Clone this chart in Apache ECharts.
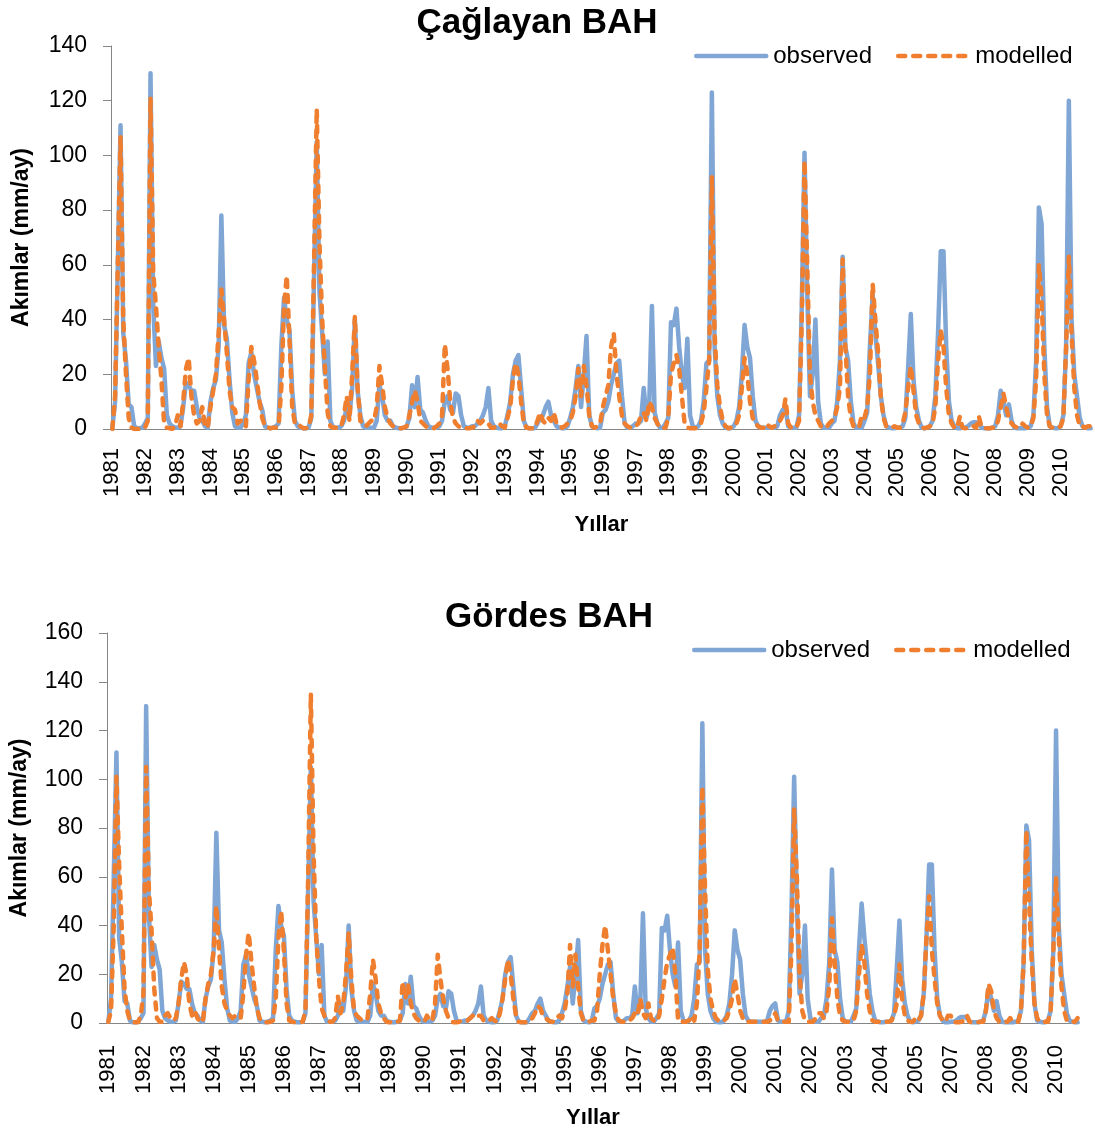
<!DOCTYPE html>
<html>
<head>
<meta charset="utf-8">
<script src="https://cdn.jsdelivr.net/npm/echarts/dist/echarts.min.js"></script>
<style>
html,body{margin:0;padding:0;background:#ffffff;}
#chart{width:1095px;height:1135px;}
</style>
</head>
<body>
<div id="chart"></div>
<script>
// ---------- data ----------
const years = [1981,1982,1983,1984,1985,1986,1987,1988,1989,1990,1991,1992,1993,1994,1995,
               1996,1997,1998,1999,2000,2001,2002,2003,2004,2005,2006,2007,2008,2009,2010];
const months = ['01','02','03','04','05','06','07','08','09','10','11','12'];

// observed monthly runoff (mm/ay), Jan..Dec per row, 1981..2010 (same record shown in both panels)
const observed = [
  0.5,10,60,111,35,25,9,8,1,0.3,0.3,0.5,
  2,4,130,45,23,32,26,22,5,2,1,0.5,
  0.5,1,8,17,16,14,14,8,4,3,1,0.5,
  10,15,18,30,78,38,33,18,6,1,0.5,0.5,
  2,5,24,28,20,15,10,7,1,0.5,0.3,0.5,
  1,2,30,48,40,36,14,3,1,0.5,0.3,0.3,
  0.5,4,55,105,50,35,20,32,3,0.5,0.5,0.5,
  1,3,8,5,15,40,14,5,1,0.5,0.5,0.5,
  0.5,3,16,12,5,3,3,1,0.5,0.3,0.3,0.5,
  1,4,16,8,19,7,6,3,1,0.5,0.5,0.5,
  1,3,10,12,7,6,13,12,5,1,0.5,0.5,
  1,1,2,3,5,8,15,3,1,0.5,0.3,0.3,
  1,5,10,20,25,27,15,3,0.5,0.3,0.3,0.3,
  2,4,5,8,10,5,3,1,0.5,0.3,0.3,1,
  4,8,15,23,8,20,34,5,1,0.5,0.3,0.5,
  6,7,10,16,20,24,25,12,2,0.5,0.5,1,
  2,2,3,15,4,8,45,6,2,0.5,0.5,2,
  4,39,38,44,30,20,15,33,5,1,0.5,1,
  3,10,24,25,123,30,12,5,2,0.5,0.3,0.3,
  1,3,8,20,38,30,26,12,3,1,0.5,0.5,
  0.5,0.5,0.5,0.5,1,5,7,8,1,0.5,0.5,0.5,
  5,45,101,50,12,20,40,10,2,0.5,0.5,0.5,
  2,3,10,25,63,30,25,10,2,0.5,0.5,0.5,
  3,6,30,49,35,24,12,5,1,0.5,0.3,0.3,
  0.5,0.5,1,4,22,42,18,8,3,0.5,0.3,0.5,
  1,3,12,35,65,65,30,10,3,1,0.3,0.3,
  0.5,0.5,1,2,2.5,2.5,2,0.5,0.3,0.3,0.3,0.5,
  1,5,14,10,5,9,3,0.5,0.3,0.3,0.3,0.3,
  0.5,1,5,25,81,75,30,8,1,0.5,0.3,0.3,
  1,5,30,120,40,20,12,4,1,0.5,0.3,0.3
];

// modelled, Çağlayan BAH
const caglayanModelled = [
  0,12,60,107,40,20,4,0.5,0,0,0,0.5,
  0.5,3,121,57,45,30,18,2,0.5,0.3,0,1,
  5,1,10,22,26,12,5,2,3,8,1,0.5,
  8,14,20,35,51,40,28,14,8,7,2,3,
  3,1,18,30,25,18,10,4,1,0.5,0.3,0.5,
  0.5,1,15,45,56,33,8,2,2,1,0.3,0.3,
  0.5,5,60,117,68,40,22,6,1,0.5,0.5,0.5,
  1,5,12,3,20,41,15,3,2,1,2,3,
  3,8,23,16,8,4,2,1,0.5,0.3,0.3,0.5,
  1,5,10,14,10,3,2,1,0.5,0.3,0.3,1,
  2,5,31,22,10,4,2,1,0.5,0.3,0.3,0.3,
  0.5,1,3,2,3,3,2,0.5,0.5,1,2,1,
  0.5,4,8,18,24,20,10,2,0.5,0.3,0.3,0.3,
  3,6,3,2,4,3,6,2,1,0.5,1,2,
  3,6,12,22,12,23,16,5,1,0.5,1,2,
  8,12,16,30,35,20,12,5,2,1,0.5,1,
  1,2,5,6,3,10,8,4,2,0.5,0.3,0.5,
  4,20,24,27,22,12,2,0.5,0.3,0.3,0.3,1,
  2,6,15,25,92,35,16,8,3,1,0.3,0.5,
  1,2,5,15,26,20,10,4,2,1,0.5,0.5,
  2,1,0.5,1,2,3,5,11,2,0.5,0.5,0.5,
  3,40,98,60,20,10,5,3,1,0.5,0.5,2,
  3,4,8,15,62,30,12,4,1,1,0.5,5,
  4,8,20,53,40,28,12,4,1,0.5,0.5,1,
  0.5,0.5,2,6,15,23,14,5,2,0.5,0.3,0.5,
  1,2,8,25,36,30,15,5,2,0.5,0.3,4.5,
  0.5,0.3,0.3,0.5,1,0.5,4.5,0.5,0.3,0.3,0.3,0.5,
  0.5,3,8,13,8,4,2,1,0.5,0.5,2,1,
  0.5,1,4,18,60,48,20,5,1,0.5,0.3,0.5,
  1,4,30,63,35,15,5,1,1,0.5,1,1
];

// modelled, Gördes BAH
const gordesModelled = [
  0.5,5,40,101,65,38,14,5,1,0.3,0.3,0.3,
  3,12,105,55,38,14,2,0.5,0.5,3,4,2,
  1,2,8,18,25,20,8,3,5,2,0.5,0.5,
  10,16,20,30,48,30,15,8,5,3,2,3,
  3,2,12,28,37,25,15,6,2,0.5,0.3,0.3,
  0.5,1,10,35,46,30,8,1,0.5,0.3,0.3,0.5,
  0.5,5,60,135,70,35,18,6,3,1,0.5,0.5,
  2,11,4,8,20,37,18,5,3,2,1,1,
  2,12,26,18,8,4,2,0.5,0.3,0.3,0.3,0.5,
  1,17,10,16,8,4,2,1,0.5,0.5,3,1,
  1,8,28,18,10,5,2,0.5,0.3,0.3,0.5,1,
  1,1,2,3,2,3,3,1,0.5,1,2,1,
  0.5,4,10,18,26,20,10,3,0.5,0.3,0.3,0.3,
  1,2,4,7,6,3,2,1,0.5,0.5,2,3,
  2,5,12,32,15,28,15,4,1,0.5,0.5,1,
  1,5,20,32,40,30,20,10,4,1,0.5,0.5,
  0.5,1,2,4,3,10,4,2,8,2,1,0.5,
  3,10,18,25,28,31,20,1,0.5,0.5,0.5,1,
  3,1,8,30,97,55,22,10,5,2,1,0.5,
  1,2,5,10,18,12,5,2,0.5,0.5,0.5,0.5,
  0.5,0.5,0.5,0.5,0.5,1,2,4,1,0.5,0.5,0.5,
  0.5,30,88,60,20,5,1,0.5,0.5,0.5,2,4,
  4,2,5,15,43,25,10,3,1,0.5,0.5,0.5,
  1,5,20,32,25,12,5,1,0.5,0.5,0.5,0.5,
  0.5,0.5,1,3,8,24,10,3,1,0.5,0.5,2,
  1,3,12,35,52,30,18,8,3,1,0.5,3,
  3,0.5,0.3,0.3,0.5,1,3,0.5,0.3,0.3,0.3,0.5,
  0.5,5,16,13,5,2,0.5,0.5,0.5,0.5,2,0.5,
  0.5,0.5,5,25,79,50,25,8,2,0.5,0.5,0.5,
  0.5,5,30,60,35,15,5,1,0.5,0.5,0.5,2
];

const panelTitles = ['Çağlayan BAH', 'Gördes BAH'];
const seriesNames = ['observed', 'modelled'];
const yMax = [140, 160];
const yStep = 20;
const xTitle = 'Yıllar';
const yTitle = 'Akımlar (mm/ay)';

// ---------- chart ----------
const categories = [];
years.forEach(y => months.forEach(m => categories.push(y + '-' + m)));

const BLUE = '#7FA6D5';
const ORANGE = '#EF7F2F';
const AXIS = '#868686';
const FONT = 'Liberation Sans, Arial, sans-serif';
const LW = 4.5;

function xAxisFor(idx, labelInterval, nameGap, labelMargin) {
  return {
    type: 'category', gridIndex: idx, data: categories, boundaryGap: true,
    axisLine: { lineStyle: { color: AXIS, width: 1 } },
    axisTick: { interval: 0, length: 8, lineStyle: { color: AXIS, width: 1 } },
    axisLabel: { interval: labelInterval, rotate: 90, margin: labelMargin, fontSize: 22,
                 color: '#000', fontFamily: FONT, formatter: v => v.slice(0, 4) },
    name: xTitle, nameLocation: 'middle', nameGap: nameGap,
    nameTextStyle: { fontSize: 22, fontWeight: 'bold', color: '#000', fontFamily: FONT },
    splitLine: { show: false }
  };
}
function yAxisFor(idx, max, nameGap) {
  return {
    type: 'value', gridIndex: idx, min: 0, max: max, interval: yStep,
    axisLine: { show: true, lineStyle: { color: AXIS, width: 1 } },
    axisTick: { show: true, length: 8, lineStyle: { color: AXIS, width: 1 } },
    axisLabel: { fontSize: 23, color: '#000', margin: 24, fontFamily: FONT },
    splitLine: { show: false },
    name: yTitle, nameLocation: 'middle', nameGap: nameGap, nameRotate: 90,
    nameTextStyle: { fontSize: 23, fontWeight: 'bold', color: '#000', fontFamily: FONT }
  };
}
function lineSeries(name, idx, data, dashed) {
  const color = dashed ? ORANGE : BLUE;
  return {
    name: name, type: 'line', xAxisIndex: idx, yAxisIndex: idx, data: data,
    symbol: 'none', showSymbol: false, smooth: false,
    lineStyle: dashed ? { color: color, width: LW, type: [7, 8], cap: 'round', join: 'round' }
                      : { color: color, width: LW, cap: 'round', join: 'round' },
    itemStyle: { color: color }, z: dashed ? 3 : 2, animation: false
  };
}
function legendFor(left, top) {
  return {
    left: left, top: top, itemWidth: 70, itemHeight: 14, itemGap: 24, padding: 0,
    itemStyle: { opacity: 0 },
    lineStyle: { width: LW, cap: 'round' },
    textStyle: { fontSize: 24, color: '#000', fontFamily: FONT, padding: [0, 0, 0, 2] },
    data: seriesNames
  };
}

const chart = echarts.init(document.getElementById('chart'), null, { renderer: 'canvas' });
chart.setOption({
  backgroundColor: '#ffffff',
  animation: false,
  textStyle: { fontFamily: FONT },
  title: [
    { text: panelTitles[0], left: 537, top: 6, textAlign: 'center', padding: 0,
      textStyle: { fontSize: 35, fontWeight: 'bold', color: '#000', fontFamily: FONT } },
    { text: panelTitles[1], left: 549, top: 600, textAlign: 'center', padding: 0,
      textStyle: { fontSize: 35, fontWeight: 'bold', color: '#000', fontFamily: FONT } }
  ],
  legend: [ legendFor(694, 44), legendFor(692, 638) ],
  grid: [
    { left: 111, right: 3, top: 46, height: 383, containLabel: false },
    { left: 104, right: 16, top: 633, height: 390, containLabel: false }
  ],
  xAxis: [ xAxisFor(0, 11, 85, 19), xAxisFor(1, 12, 84, 22) ],
  yAxis: [ yAxisFor(0, yMax[0], 78), yAxisFor(1, yMax[1], 76) ],
  series: [
    lineSeries(seriesNames[0], 0, observed, false),
    lineSeries(seriesNames[1], 0, caglayanModelled, true),
    lineSeries(seriesNames[0], 1, observed, false),
    lineSeries(seriesNames[1], 1, gordesModelled, true)
  ]
});
</script>
</body>
</html>
